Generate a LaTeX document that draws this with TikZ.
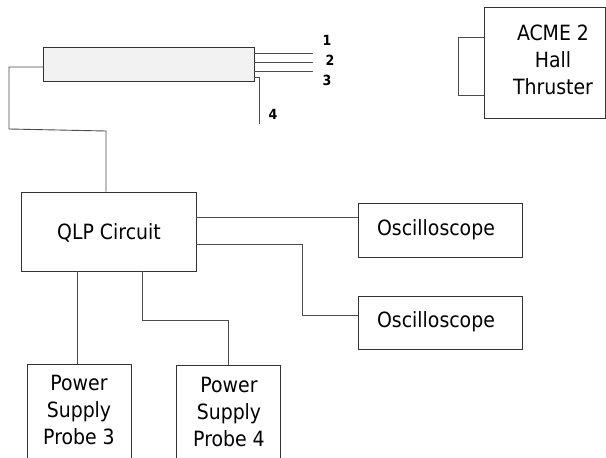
\documentclass[tikz,border=0pt]{standalone}
\usepackage{fontspec}
\setmainfont{DejaVu Sans Condensed}
\begin{document}
\begin{tikzpicture}[x=1pt,y=-1pt,
  box/.style={draw=black!80, line width=0.9pt, rectangle, inner sep=0pt, fill=white},
  wire/.style={draw=black!70, line width=0.9pt},
  txt/.style={inner sep=0pt, align=center, font=\fontsize{21}{27}\selectfont},
  num/.style={inner sep=0pt, font=\fontsize{14}{16}\selectfont\bfseries}]
\useasboundingbox (0,0) rectangle (606,458);
\clip (0,0) rectangle (606,458);
\fill[white] (0,0) rectangle (606,458);

% probe bar
\node[box, fill={rgb,255:red,242;green,242;blue,242}, minimum width=211pt, minimum height=34pt] (bar) at (148.5,64) {};
% thruster
\node[box, minimum width=121pt, minimum height=111pt] (acme) at (544.5,62.5) {};
\node[txt] (acmet) at (553,60) {ACME 2\\Hall\\Thruster};
% circuit
\node[box, minimum width=175pt, minimum height=79pt] (qlp) at (108.5,231.5) {};
\node[txt] (qlpt) at (109,233) {QLP Circuit};
% oscilloscopes
\node[box, minimum width=164pt, minimum height=54pt] (osc1) at (440,230) {};
\node[txt] (osc1t) at (436,230) {Oscilloscope};
\node[box, minimum width=164pt, minimum height=53pt] (osc2) at (440,322.5) {};
\node[txt] (osc2t) at (436,322) {Oscilloscope};
% power supplies
\node[box, minimum width=104pt, minimum height=120pt, anchor=north] (ps3) at (79,364) {};
\node[txt] (ps3t) at (79,410) {Power\\Supply\\Probe 3};
\node[box, minimum width=104pt, minimum height=120pt, anchor=north] (ps4) at (228,365) {};
\node[txt] (ps4t) at (229,411.5) {Power\\Supply\\Probe 4};

% probe leads
\coordinate (e1) at (313,53);
\coordinate (e2) at (313,62);
\coordinate (e3) at (313,71);
\coordinate (s4) at (254,77);
\coordinate (e4) at (259,124);
\draw[wire] (bar.east |- e1) -- (e1);
\draw[wire] (bar.east |- e2) -- (e2);
\draw[wire] (bar.east |- e3) -- (e3);
\draw[wire] (s4) -| (e4);
\node[num] (n1) at (327,40) {1};
\node[num] (n2) at (330,60) {2};
\node[num] (n3) at (327,80) {3};
\node[num] (n4) at (273,114) {4};

% bar to circuit
\coordinate (bl) at (43,67);
\coordinate (c1) at (9,129);
\coordinate (c2) at (106,131);
\draw[wire] (bl) -| (c1) -- (c2) -- (c2 |- qlp.north);

% thruster bracket
\coordinate (t1) at (458,37);
\coordinate (t2) at (458,95);
\draw[wire] (acme.west |- t1) -- (t1) -- (t2) -- (acme.west |- t2);

% circuit to oscilloscopes
\coordinate (o1) at (358,217);
\draw[wire] (qlp.east |- o1) -- (osc1.west |- o1);
\coordinate (o2a) at (196,244);
\coordinate (o2b) at (302,315);
\draw[wire] (qlp.east |- o2a) -| (o2b) -- (osc2.west |- o2b);

% circuit to power supplies
\coordinate (p3) at (77,300);
\draw[wire] (qlp.south -| p3) -- (ps3.north -| p3);
\coordinate (p4a) at (142,320);
\coordinate (p4b) at (228,320);
\draw[wire] (qlp.south -| p4a) -- (p4a) -- (p4b) -- (ps4.north -| p4b);
\end{tikzpicture}
\end{document}
